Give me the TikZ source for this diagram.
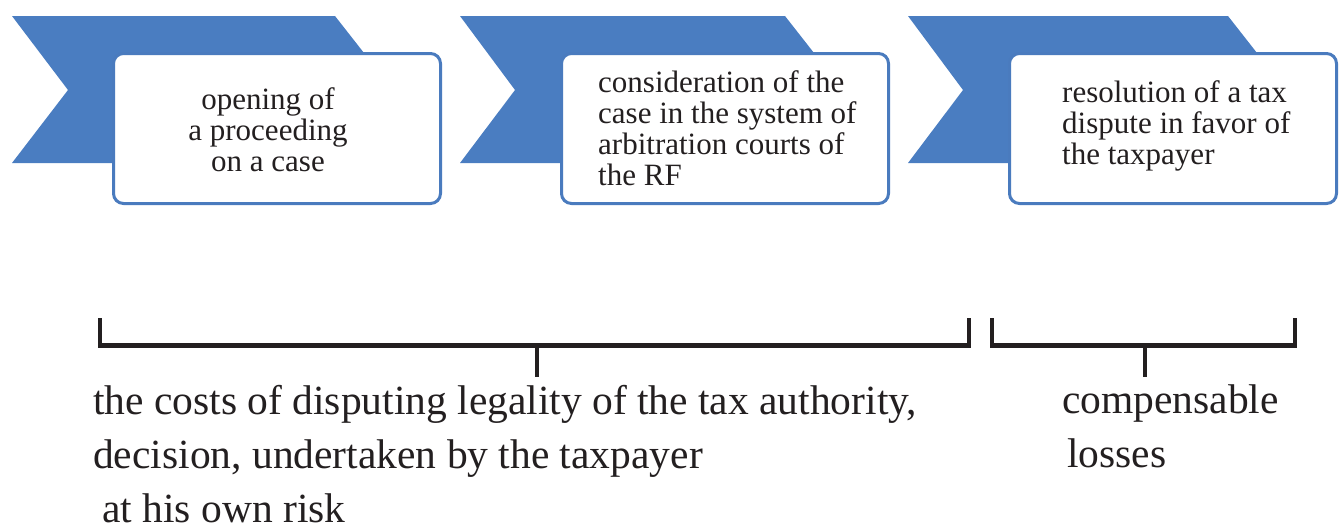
\documentclass[tikz,border=0pt]{standalone}
\usepackage{fontspec}
\setmainfont{Liberation Serif}
\definecolor{bannerblue}{HTML}{4A7DC1}
\definecolor{boxblue}{HTML}{4A7BBE}
\definecolor{ink}{HTML}{231F20}
\begin{document}
\begin{tikzpicture}[x=1pt,y=-1pt,
  banner/.style={fill=bannerblue},
  stepbox/.style={draw=boxblue, line width=3pt, fill=white, rounded corners=10pt,
    minimum width=327pt, minimum height=150pt, anchor=north west, inner sep=0pt},
  boxtext/.style={font=\fontsize{31}{31}\selectfont, text=ink, inner sep=0pt},
  lowtext/.style={font=\fontsize{41.5}{54}\selectfont, text=ink, inner sep=0pt,
    anchor=base west, align=left},
  bar/.style={line width=5pt, draw=ink},
  tickline/.style={line width=3.5pt, draw=ink}]
\useasboundingbox (0,0) rectangle (1344,531);
% banners
\fill[banner] (12,16) -- (335,16) -- (393,90) -- (335,163) -- (12,163) -- (68,90) -- cycle;
\fill[banner] (460,16) -- (785,16) -- (843,90) -- (785,163) -- (460,163) -- (515,90) -- cycle;
\fill[banner] (908,16) -- (1228,16) -- (1286,90) -- (1228,163) -- (908,163) -- (963,90) -- cycle;
% boxes
\node[stepbox] (b1) at (112,52) {};
\node[stepbox] (b2) at (560,52) {};
\node[stepbox] (b3) at (1008,52) {};
% box texts (base anchor = last line's baseline)
\node[boxtext, anchor=base, align=center] (t1) at (268,171) {opening of\\a proceeding\\on a case};
\node[boxtext, anchor=base west, align=left] (t2) at (598,185) {consideration of the\\case in the system of\\arbitration courts of\\the RF};
\node[boxtext, anchor=base west, align=left] (t3) at (1062,164) {resolution of a tax\\dispute in favor of\\the taxpayer};
% brackets
\coordinate (l1top) at (100,318);
\coordinate (l1bot) at (100,347.5);
\coordinate (l1a) at (98.5,345);
\coordinate (l1b) at (970.5,345);
\coordinate (l2top) at (969,318);
\coordinate (l2bot) at (969,347.5);
\coordinate (lmid) at (537,345);
\coordinate (lmidend) at (537,377);
\coordinate (r1top) at (992,318);
\coordinate (r1bot) at (992,347.5);
\coordinate (r1a) at (990.5,345);
\coordinate (r1b) at (1296.5,345);
\coordinate (r2top) at (1295,318);
\coordinate (r2bot) at (1295,347.5);
\coordinate (rmid) at (1145,345);
\coordinate (rmidend) at (1145,377);
\draw[tickline] (l1top) -- (l1bot);
\draw[tickline] (l2top) -- (l2bot);
\draw[bar] (l1a) -- (l1b);
\draw[tickline] (lmid) -- (lmidend);
\draw[tickline] (r1top) -- (r1bot);
\draw[tickline] (r2top) -- (r2bot);
\draw[bar] (r1a) -- (r1b);
\draw[tickline] (rmid) -- (rmidend);
% lower texts
\node[lowtext] (costs) at (93,522) {the costs of disputing legality of the tax authority,\\decision, undertaken by the taxpayer\\\hspace*{9pt}at his own risk};
\node[lowtext] (comp) at (1062,467) {compensable\\\hspace*{5pt}losses};
\end{tikzpicture}
\end{document}
